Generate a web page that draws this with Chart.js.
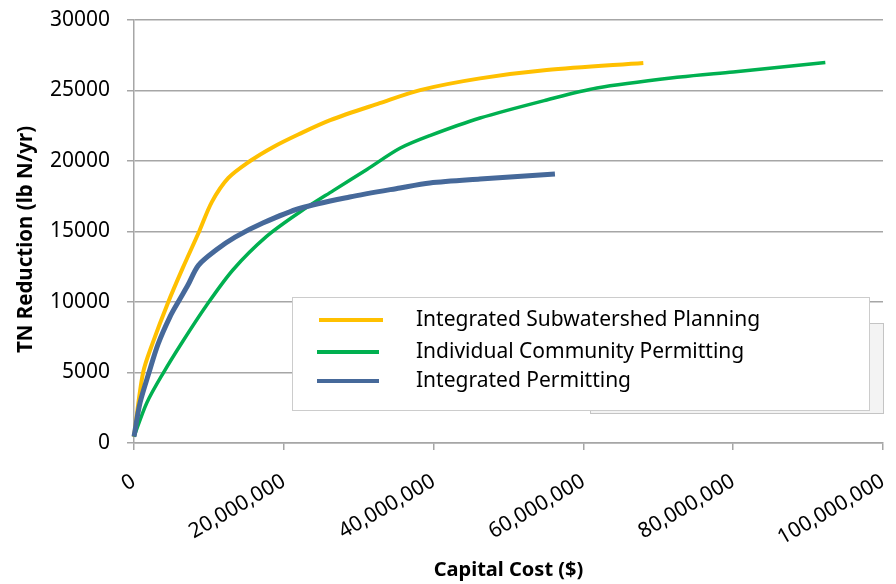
<!DOCTYPE html>
<html>
<head>
<meta charset="utf-8">
<script src="https://cdn.jsdelivr.net/npm/chart.js@4.4.1/dist/chart.umd.min.js"></script>
<style>
  html, body { margin: 0; padding: 0; background: #fff; }
  #wrap { width: 896px; height: 584px; }
</style>
</head>
<body>
<div id="wrap"><canvas id="myChart" width="896" height="584"></canvas></div>
<script>
// capital cost in millions of dollars, TN reduction in lb N/yr
const seriesNames = ['Integrated Subwatershed Planning', 'Individual Community Permitting', 'Integrated Permitting'];
const seriesColors = ['#FFC000', '#00B050', '#46699A'];
const seriesWidths = [4, 3.5, 5];

const ispCost = [0, 1.2, 2.5, 4.5, 6.5, 8.7, 10.4, 12.6, 15.5, 18.6, 22, 26.2, 32.8, 38.2, 46.2, 55.1, 68];
const ispTN   = [450, 4960, 7100, 9900, 12400, 15000, 17100, 18800, 20000, 21000, 21900, 22900, 24100, 25030, 25860, 26450, 26950];

const icpCost = [0, 1.7, 3.9, 6.5, 9.6, 13.2, 17.7, 22.2, 26.6, 31.1, 35.5, 39.5, 46.2, 55.1, 61.8, 72.9, 80, 92.3];
const icpTN   = [450, 2840, 4960, 7200, 9700, 12270, 14650, 16400, 17900, 19400, 20900, 21800, 23050, 24330, 25180, 25960, 26320, 26980];

const ipCost = [0, 0.8, 2, 3.2, 4.8, 5.9, 7.2, 8.6, 11, 13.5, 17.2, 22.2, 28.8, 35.5, 39.5, 46.2, 56.2];
const ipTN   = [450, 2840, 5000, 7000, 8950, 10000, 11200, 12600, 13700, 14600, 15600, 16650, 17450, 18090, 18440, 18720, 19080];

const xTicks = [0, 20000000, 40000000, 60000000, 80000000, 100000000];
const yTicks = [0, 5000, 10000, 15000, 20000, 25000, 30000];

const font = "'Noto Sans', sans-serif";
const gray = '#a6a6a6';

function toPoints(cost, tn) {
  return cost.map((c, i) => ({ x: c * 1000000, y: tn[i] }));
}

const allSeries = [toPoints(ispCost, ispTN), toPoints(icpCost, icpTN), toPoints(ipCost, ipTN)];

// legend drawn inside the plot, over a grey box like the original
const boxLegend = {
  id: 'boxLegend',
  afterDatasetsDraw(chart) {
    const c = chart.ctx;
    c.save();
    c.lineWidth = 1;
    c.fillStyle = '#f3f3f3';
    c.strokeStyle = '#c4c4c4';
    c.fillRect(590, 323, 293, 90);
    c.strokeRect(590.5, 323.5, 293, 90);
    c.fillStyle = '#ffffff';
    c.strokeStyle = '#cccccc';
    c.fillRect(292, 297, 577, 113);
    c.strokeRect(292.5, 297.5, 577, 113);
    const rows = [320, 352, 381];
    seriesNames.forEach((name, i) => {
      c.strokeStyle = seriesColors[i];
      c.lineWidth = 4;
      c.beginPath();
      c.moveTo(i === 0 ? 319 : 317, rows[i]);
      c.lineTo(i === 0 ? 383 : 379, rows[i]);
      c.stroke();
      c.fillStyle = '#000';
      c.font = '21px ' + font;
      c.textBaseline = 'middle';
      c.fillText(name, 416, rows[i]);
    });
    c.restore();
  }
};

new Chart(document.getElementById('myChart'), {
  type: 'line',
  data: {
    datasets: allSeries.map((pts, i) => ({
      label: seriesNames[i],
      data: pts,
      borderColor: seriesColors[i],
      backgroundColor: seriesColors[i],
      borderWidth: seriesWidths[i],
      pointRadius: 0,
      tension: 0.3,
      order: -i,
      clip: 6,
      fill: false
    }))
  },
  options: {
    responsive: false,
    animation: false,
    layout: { padding: { top: 20, right: 13, left: 0, bottom: 0 } },
    plugins: { legend: { display: false }, tooltip: { enabled: false } },
    scales: {
      x: {
        type: 'linear',
        min: 0,
        max: 100000000,
        afterFit(s) { s.height = 141; s.paddingLeft = 0; s.paddingRight = 0; },
        afterBuildTicks(s) { s.ticks = xTicks.map(v => ({ value: v })); },
        grid: { display: true, drawOnChartArea: false, tickLength: 7, color: gray, lineWidth: 1.5 },
        border: { display: true, color: gray, width: 1.5 },
        ticks: {
          autoSkip: false,
          minRotation: 30,
          maxRotation: 30,
          padding: 19,
          color: '#000',
          font: { family: font, size: 21 },
          callback: v => v.toLocaleString('en-US')
        },
        title: {
          display: true,
          text: 'Capital Cost ($)',
          color: '#000',
          font: { family: font, size: 20, weight: 'bold' },
          padding: { top: 0, bottom: 2 }
        }
      },
      y: {
        min: 0,
        max: 30000,
        afterFit(s) { s.width = 134; s.paddingTop = 0; s.paddingBottom = 0; },
        afterBuildTicks(s) { s.ticks = yTicks.map(v => ({ value: v })); },
        grid: { color: gray, tickLength: 7, lineWidth: 1.5 },
        border: { display: true, color: gray, width: 1.5 },
        ticks: {
          padding: 17,
          color: '#000',
          font: { family: font, size: 21 },
          callback: v => String(v)
        },
        title: {
          display: true,
          // trailing spaces push the centred title a little lower, as in the original
          text: 'TN Reduction (lb N/yr)   ',
          color: '#000',
          font: { family: font, size: 20.5, weight: 'bold' },
          padding: { top: 14, bottom: 0 }
        }
      }
    }
  },
  plugins: [boxLegend]
});
</script>
</body>
</html>
